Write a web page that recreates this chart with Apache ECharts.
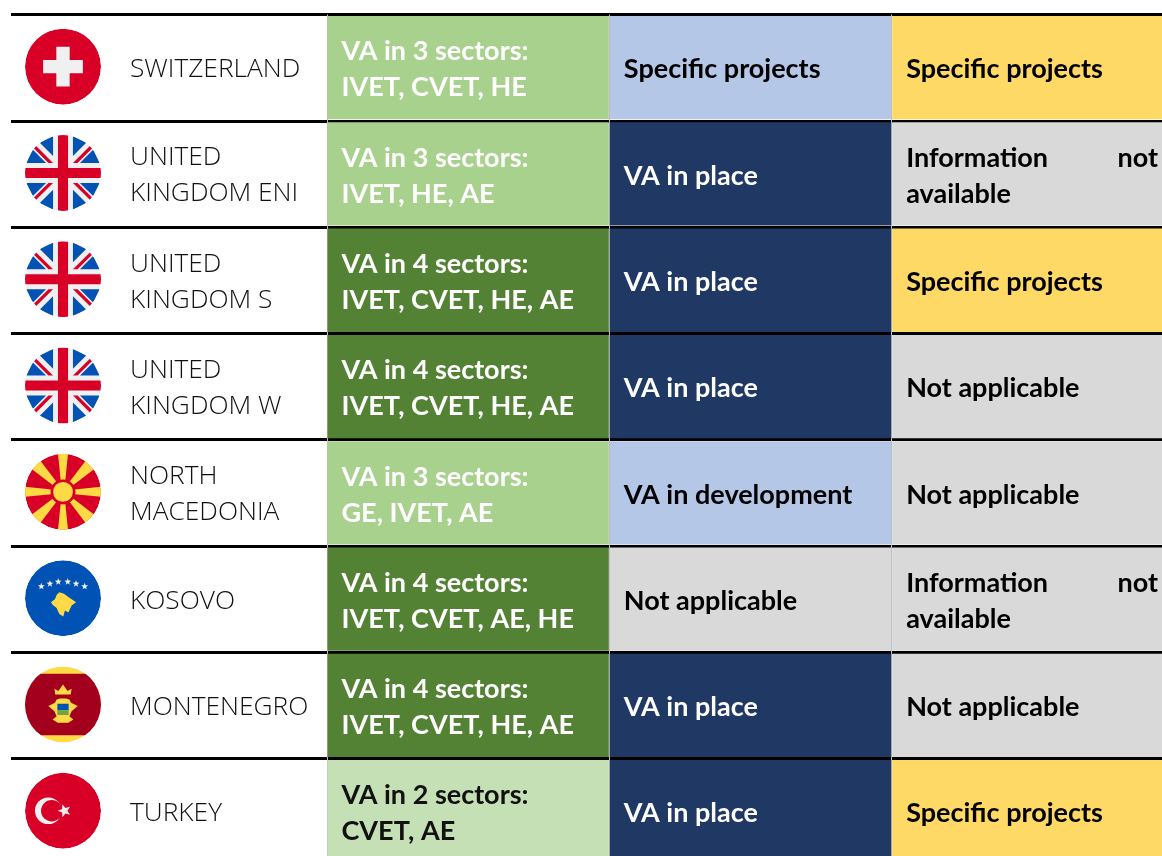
<!DOCTYPE html>
<html><head><meta charset="utf-8">
<style>html,body{margin:0;padding:0;background:#fff;overflow:hidden}#c{width:1162px;height:856px}</style>
<script src="https://cdn.jsdelivr.net/npm/echarts@6/dist/echarts.min.js"></script>
</head><body><div id="c"></div>
<script>
const countries = ['SWITZERLAND','UNITED\nKINGDOM ENI','UNITED\nKINGDOM S','UNITED\nKINGDOM W','NORTH\nMACEDONIA','KOSOVO','MONTENEGRO','TURKEY'];
const flagCodes = ['ch','gb','gb','gb','mk','xk','me','tr'];
const columns = ['Sectors','Status A','Status B'];
const sectorCounts = [3,3,4,4,3,4,4,2];
const sectorLists = ['IVET, CVET, HE','IVET, HE, AE','IVET, CVET, HE, AE','IVET, CVET, HE, AE','GE, IVET, AE','IVET, CVET, AE, HE','IVET, CVET, HE, AE','CVET, AE'];
const statusA = ['Specific projects','VA in place','VA in place','VA in place','VA in development','Not applicable','VA in place','VA in place'];
const statusB = ['Specific projects','Information not available','Specific projects','Not applicable','Not applicable','Information not available','Not applicable','Specific projects'];

const sectorStyle = {2:['#C5E0B4','#111'],3:['#A9D18E','#fff'],4:['#548235','#fff']};
const statusStyleA = {
  'Specific projects':['#B4C7E7','#000'],
  'VA in place':['#203864','#fff'],
  'VA in development':['#B4C7E7','#000'],
  'Not applicable':['#D9D9D9','#000']
};
const statusStyleB = {
  'Specific projects':['#FFD966','#000'],
  'Not applicable':['#D9D9D9','#000'],
  'Information not available':['#D9D9D9','#000']
};
const RED='#D80027',WHITE='#F0F0F0',BLUE='#0052B4',YEL='#FFDA44';
function star(cx,cy,R,rot){
  const p=[];const r=R*0.42;
  for(let i=0;i<10;i++){const a=rot+i*Math.PI/5;const q=i%2?r:R;p.push([cx+q*Math.cos(a),cy+q*Math.sin(a)]);}
  return {type:'polygon',shape:{points:p},style:{fill:WHITE}};
}
const circ=(r,fill,cx,cy)=>({type:'circle',shape:{cx:cx||0,cy:cy||0,r},style:{fill}});
const poly=(points,fill)=>({type:'polygon',shape:{points},style:{fill}});
const rect=(x,y,width,height,fill)=>({type:'rect',shape:{x,y,width,height},style:{fill}});
function rays(){
  const out=[];
  for(let i=0;i<8;i++){
    const a=i*Math.PI/4,c=Math.cos(a),s=Math.sin(a),w=i%2?46:38;
    const P=(u,v)=>[u*c-v*s,u*s+v*c];
    out.push(poly([P(60,-14),P(300,-w),P(300,w),P(60,14)],YEL));
  }
  return out;
}
const flagArt={
  ch:()=>[circ(256,RED),rect(-134,-45,268,90,WHITE),rect(-45,-134,90,268,WHITE)],
  gb:()=>{
    const out=[circ(256,WHITE)];
    [[1,1],[1,-1],[-1,1],[-1,-1]].forEach(([a,b])=>{
      out.push(poly([[a*114,b*67],[a*247,b*67],[a*203,b*156]],BLUE));
      out.push(poly([[a*67,b*114],[a*67,b*247],[a*156,b*203]],BLUE));
      out.push(poly([[a*67,b*67],[a*181,b*181],[a*196,b*165],[a*98,b*67]],RED));
    });
    out.push(rect(-256,-34,512,68,RED),rect(-34,-256,68,512,RED));
    return out;
  },
  mk:()=>[circ(256,RED),...rays(),circ(84,RED),circ(67,YEL)],
  xk:()=>[circ(256,BLUE),
    star(-146,-79,24,-Math.PI/2),star(-88,-97,24,-Math.PI/2),star(-32,-110,24,-Math.PI/2),
    star(32,-110,24,-Math.PI/2),star(88,-97,24,-Math.PI/2),star(146,-79,24,-Math.PI/2),
    poly([[-81,27],[-54,7],[-43,-22],[-25,-40],[7,-29],[36,-7],[88,27],[58,49],[36,97],[13,83],[2,124],[-25,106],[-43,67],[-70,45]],YEL)],
  me:()=>[circ(256,YEL),rect(-256,-207,512,414,'#A2001D'),
    poly([[-58,-106],[-31,-90],[0,-135],[31,-90],[58,-106],[52,-67],[-52,-67]],YEL),
    poly([[-99,11],[-54,-11],[-43,-34],[-20,-40],[20,-40],[43,-34],[54,-11],[99,11],[58,45],[43,79],[70,101],[36,124],[-36,124],[-70,101],[-43,79],[-58,45]],YEL),
    rect(-38,-5,76,44,BLUE),rect(-38,39,76,32,'#6DA544')],
  tr:()=>[circ(256,RED),circ(90,WHITE,-99,0),circ(72,RED,-76,0),star(10,0,46,Math.PI)]
};
const FLAG_R=38;
function drawCountry(params,api){
  const row=api.value(1);
  const c=api.coord([0,row]);
  const cy=c[1];
  const left=params.coordSys.x;
  const s=FLAG_R/256;
  return {type:'group',children:[
    {type:'group',x:left+52,y:cy-1,scaleX:s,scaleY:s,
      clipPath:{type:'circle',shape:{cx:0,cy:0,r:256}},
      children:flagArt[flagCodes[row]]()},
    {type:'text',x:left+119,y:cy+2,style:{text:countries[row],fontFamily:'"Open Sans"',fontWeight:300,fontSize:26.3,lineHeight:36,fill:'#111',align:'left',verticalAlign:'middle'}}
  ]};
}
function drawCell(params,api){
  const col=api.value(0),row=api.value(1);
  const c=api.coord([col,row]);
  const sz=api.size([1,1]);
  const x0=c[0]-sz[0]/2,y0=c[1]-sz[1]/2;
  const [fill,ink]=col===0?sectorStyle[sectorCounts[row]]:(col===1?statusStyleA[statusA[row]]:statusStyleB[statusB[row]]);
  const text=col===0?'VA in '+sectorCounts[row]+' sectors:\n'+sectorLists[row]:(col===1?statusA[row]:statusB[row]);
  const font={fontFamily:'Lato',fontWeight:700,fontSize:27,lineHeight:36,fill:ink};
  const kids=[{type:'rect',shape:{x:x0+0.5,y:y0+1.5,width:sz[0]-1,height:sz[1]-3},style:{fill}}];
  const tx=x0+14.5,ty=c[1]+2;
  if(text==='Information not available'){
    kids.push({type:'text',x:tx,y:ty-18,style:{...font,text:'Information',align:'left',verticalAlign:'middle'}});
    kids.push({type:'text',x:x0+sz[0]-16,y:ty-18,style:{...font,text:'not',align:'right',verticalAlign:'middle'}});
    kids.push({type:'text',x:tx,y:ty+18,style:{...font,text:'available',align:'left',verticalAlign:'middle'}});
  } else {
    kids.push({type:'text',x:tx,y:ty,style:{...font,text,align:'left',verticalAlign:'middle'}});
  }
  return {type:'group',children:kids};
}
const rowLines={show:true,interval:0,lineStyle:{color:'#000',width:3}};
const hiddenAxis={axisLabel:{show:false},axisTick:{show:false},axisLine:{show:false}};
const chart=echarts.init(document.getElementById('c'),null,{renderer:'canvas'});
const cellData=[];
countries.forEach((_,r)=>columns.forEach((__,c)=>cellData.push([c,r])));
chart.setOption({
  animation:false,
  grid:[{left:11,top:14.5,width:316,height:850.4,outerBoundsMode:'none'},{left:327,top:14.5,width:847,height:850.4,outerBoundsMode:'none'}],
  xAxis:[
    {type:'category',gridIndex:0,data:['Country'],...hiddenAxis,splitLine:{show:false}},
    {type:'category',gridIndex:1,data:columns,...hiddenAxis,splitLine:{show:true,interval:0,lineStyle:{color:'#bdbdbd',width:1}}}
  ],
  yAxis:[
    {type:'category',gridIndex:0,data:countries,inverse:true,...hiddenAxis,splitLine:rowLines},
    {type:'category',gridIndex:1,data:countries,inverse:true,...hiddenAxis,splitLine:rowLines}
  ],
  series:[
    {type:'custom',xAxisIndex:0,yAxisIndex:0,renderItem:drawCountry,clip:false,silent:true,encode:{x:0,y:1},data:countries.map((_,r)=>[0,r])},
    {type:'custom',xAxisIndex:1,yAxisIndex:1,renderItem:drawCell,clip:false,silent:true,encode:{x:0,y:1},data:cellData}
  ]
});
</script></body></html>
